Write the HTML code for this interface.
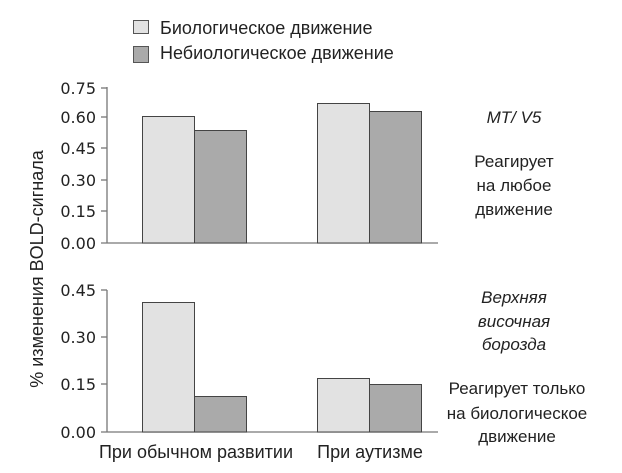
<!DOCTYPE html>
<html><head><meta charset="utf-8"><style>
html,body{margin:0;padding:0;background:#fff;}
svg{display:block;font-family:"Liberation Sans","DejaVu Sans",sans-serif;}
</style></head><body>
<svg width="622" height="473" viewBox="0 0 622 473" xmlns="http://www.w3.org/2000/svg">
<rect width="622" height="473" fill="#fff"/>
<rect x="133.5" y="20.5" width="15" height="13" fill="#e2e2e2" stroke="#555"/>
<rect x="133.5" y="46.5" width="15" height="16" fill="#aaa" stroke="#555"/>
<text x="160" y="34" font-size="18" fill="#222">Биологическое движение</text>
<text x="160" y="59" font-size="18" fill="#222">Небиологическое движение</text>
<g stroke="#777" stroke-width="1.3" fill="none">
<line x1="107" y1="87" x2="107" y2="243"/>
<line x1="101" y1="88" x2="107" y2="88"/>
<line x1="101" y1="117" x2="107" y2="117"/>
<line x1="101" y1="148" x2="107" y2="148"/>
<line x1="101" y1="180" x2="107" y2="180"/>
<line x1="101" y1="211" x2="107" y2="211"/>
<line x1="101" y1="243" x2="438" y2="243"/>
<line x1="107" y1="290" x2="107" y2="432"/>
<line x1="101" y1="290" x2="107" y2="290"/>
<line x1="101" y1="337" x2="107" y2="337"/>
<line x1="101" y1="384" x2="107" y2="384"/>
<line x1="101" y1="432" x2="438" y2="432"/>
</g>
<g font-family="'DejaVu Sans','Liberation Sans',sans-serif" font-size="16" fill="#222" text-anchor="end">
<text x="96" y="94">0.75</text>
<text x="96" y="123">0.60</text>
<text x="96" y="154">0.45</text>
<text x="96" y="186">0.30</text>
<text x="96" y="217">0.15</text>
<text x="96" y="249">0.00</text>
<text x="96" y="296">0.45</text>
<text x="96" y="343">0.30</text>
<text x="96" y="390">0.15</text>
<text x="96" y="438">0.00</text>
</g>
<g stroke="#444" stroke-width="1">
<rect x="142.5" y="116.5" width="52" height="126.5" fill="#e2e2e2"/>
<rect x="194.5" y="130.5" width="52" height="112.5" fill="#aaa"/>
<rect x="317.5" y="103.5" width="52" height="139.5" fill="#e2e2e2"/>
<rect x="369.5" y="111.5" width="52" height="131.5" fill="#aaa"/>
<rect x="142.5" y="302.5" width="52" height="129.5" fill="#e2e2e2"/>
<rect x="194.5" y="396.5" width="52" height="35.5" fill="#aaa"/>
<rect x="317.5" y="378.5" width="52" height="53.5" fill="#e2e2e2"/>
<rect x="369.5" y="384.5" width="52" height="47.5" fill="#aaa"/>
</g>
<text x="196" y="458" font-size="18" fill="#222" text-anchor="middle">При обычном развитии</text>
<text x="370" y="458" font-size="18" fill="#222" text-anchor="middle">При аутизме</text>
<text transform="translate(43,269) rotate(-90)" font-size="18" fill="#222" text-anchor="middle">% изменения BOLD-сигнала</text>
<g font-size="17" fill="#222" text-anchor="middle">
<text x="514" y="123" font-style="italic">MT/ V5</text>
<text x="514" y="167">Реагирует</text>
<text x="514" y="191">на любое</text>
<text x="514" y="215">движение</text>
<text x="514" y="303" font-style="italic">Верхняя</text>
<text x="514" y="327" font-style="italic">височная</text>
<text x="514" y="350" font-style="italic">борозда</text>
<text x="517" y="394">Реагирует только</text>
<text x="517" y="419">на биологическое</text>
<text x="517" y="442">движение</text>
</g>
</svg>
</body></html>
